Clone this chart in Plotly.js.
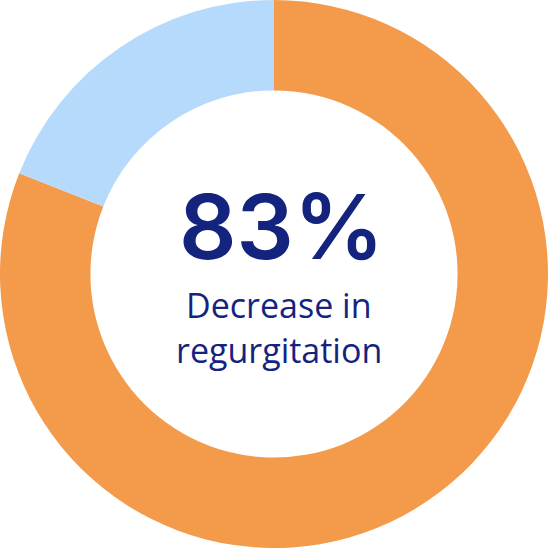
<!DOCTYPE html>
<html>
<head>
<meta charset="utf-8">
<script src="https://cdn.plot.ly/plotly-3.0.1.min.js"></script>
<style>
  html, body { margin: 0; padding: 0; background: #fff; }
  #chart { width: 548px; height: 548px; }
</style>
</head>
<body>
<div id="chart"></div>
<script>
// share (orange part vs blue part)
var labels = ['Decrease', 'Remaining'];
var values = [81, 19];
var colors = ['#f39b4b', '#b6dafc'];

var bigLabel = '83%';
var subLines = ['Decrease in', 'regurgitation'];

var textColor = '#14247e';

var data = [
    {
        type: 'pie',
        labels: labels,
        values: values,
        hole: 0.67,
        sort: false,
        direction: 'clockwise',
        rotation: 0,
        textinfo: 'none',
        hoverinfo: 'none',
        marker: {
            colors: colors,
            line: { width: 0 }
        },
        domain: { x: [0, 1], y: [0, 1] }
    }
];

var layout = {
    width: 548,
    height: 548,
    margin: { l: 0, r: 0, t: 0, b: 0 },
    showlegend: false,
    paper_bgcolor: '#ffffff',
    annotations: [
        {
            text: bigLabel,
            x: 0.513, y: 0.586,
            xref: 'paper', yref: 'paper',
            showarrow: false,
            font: { family: 'Inter', size: 90, color: textColor, weight: 600 }
        },
        {
            text: subLines[0],
            x: 0.509, y: 0.443,
            xref: 'paper', yref: 'paper',
            showarrow: false,
            font: { family: 'Open Sans', size: 34, color: textColor }
        },
        {
            text: subLines[1],
            x: 0.509, y: 0.361,
            xref: 'paper', yref: 'paper',
            showarrow: false,
            font: { family: 'Open Sans', size: 34, color: textColor }
        }
    ]
};

Plotly.newPlot('chart', data, layout, { displayModeBar: false, staticPlot: true });
</script>
</body>
</html>
